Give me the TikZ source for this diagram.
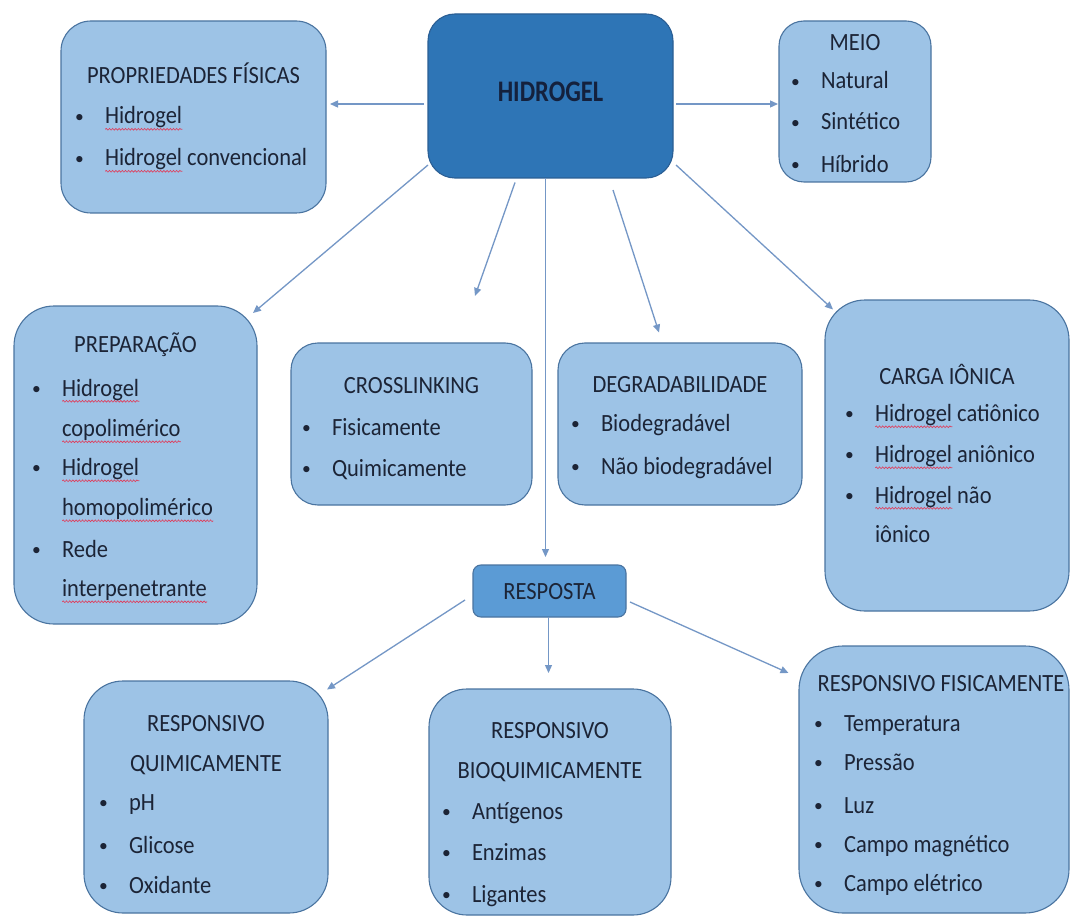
\documentclass[tikz,border=0pt]{standalone}
\usepackage{fontspec}
\usepackage{graphicx}
\setmainfont{Carlito}
\usetikzlibrary{arrows.meta,calc,decorations.pathmorphing}

\definecolor{boxfill}{HTML}{9DC3E6}
\definecolor{boxline}{HTML}{4A74A0}
\definecolor{hidfill}{HTML}{2E75B6}
\definecolor{hidline}{HTML}{2A5E94}
\definecolor{respfill}{HTML}{5B9BD5}
\definecolor{arrowc}{HTML}{7497C6}
\definecolor{textc}{HTML}{1C2436}
\definecolor{hidtext}{HTML}{14213D}
\definecolor{spellred}{HTML}{E03C5A}

% red wavy spell-check underline below a word
\newlength\spellw
\newcommand\spell[1]{\settowidth\spellw{#1}\rlap{\tikz[baseline=0pt]{%
  \path (0pt,0pt) (\spellw,0pt);
  \draw[spellred,line width=0.6pt,decorate,decoration={snake,amplitude=0.8pt,segment length=3.2pt}]
    (0pt,-4.8pt) -- (\spellw,-4.8pt);}}#1}

% slightly tall lettering
\newcommand\tall[1]{\scalebox{1}[1.1]{#1}}
\newcommand\listdot{\raisebox{1.6pt}{\scalebox{0.78}{\textbullet}}}

% text lines inside the boxes
\newcounter{ln}
\newcommand\boxtitle[3]{\stepcounter{ln}\node[txt,anchor=base] (ln\arabic{ln}) at (#1,#2) {\tall{#3}};}
\newcommand\boxitem[3]{\stepcounter{ln}\node[txt,anchor=base west] (ln\arabic{ln}) at (#1-30,#2) {\makebox[30pt][l]{\listdot}\tall{#3}};}
\newcommand\boxcont[3]{\stepcounter{ln}\node[txt,anchor=base west] (ln\arabic{ln}) at (#1,#2) {\tall{#3}};}

\begin{document}
\begin{tikzpicture}[x=1pt,y=-1pt,
  txt/.style={inner sep=0pt,outer sep=0pt,text=textc,font=\fontsize{22.5}{27}\selectfont},
  lbox/.style={draw=boxline,fill=boxfill,line width=1.1pt,inner sep=0pt,outer sep=0pt},
  arr/.style={draw=arrowc,line width=1.3pt,-{Triangle[length=8pt,width=7pt]}}]

\fill[white] (0,0) rectangle (1073,917);
\useasboundingbox (0,0) rectangle (1073,917);

% ---------- boxes ----------
\node[draw=hidline,fill=hidfill,line width=1.1pt,inner sep=0pt,outer sep=0pt,
      minimum width=245pt,minimum height=164pt,rounded corners=27pt] (hid) at (550.5,96) {};
\node[lbox,minimum width=265pt,minimum height=192pt,rounded corners=30pt] (prop) at (193.5,117) {};
\node[lbox,minimum width=152pt,minimum height=161pt,rounded corners=25pt] (meio) at (855,101.5) {};
\node[lbox,minimum width=243pt,minimum height=318pt,rounded corners=40pt] (prep) at (135.5,465) {};
\node[lbox,minimum width=241pt,minimum height=162pt,rounded corners=27pt] (cross) at (411.5,424) {};
\node[lbox,minimum width=244pt,minimum height=162pt,rounded corners=27pt] (degr) at (680,424) {};
\node[lbox,minimum width=244pt,minimum height=311pt,rounded corners=40pt] (carga) at (947,455.5) {};
\node[draw=boxline,fill=respfill,line width=1.1pt,inner sep=0pt,outer sep=0pt,
      minimum width=153pt,minimum height=52pt,rounded corners=8pt] (resp) at (549.5,591) {};
\node[lbox,minimum width=244pt,minimum height=232pt,rounded corners=39pt] (rq) at (206,797) {};
\node[lbox,minimum width=242pt,minimum height=226pt,rounded corners=38pt] (rb) at (550,802) {};
\node[lbox,minimum width=270pt,minimum height=267pt,rounded corners=44pt] (rf) at (934,779.5) {};

% ---------- texts ----------
\node[inner sep=0pt,outer sep=0pt,text=hidtext,font=\fontsize{24.5}{29}\selectfont\bfseries,anchor=base]
  (hidlabel) at (550.5,102) {\scalebox{1}[1.22]{HIDROGEL}};

\boxtitle{193.5}{84}{PROPRIEDADES FÍSICAS}
\boxitem{105}{124}{\spell{Hidrogel}}
\boxitem{105}{166}{\spell{Hidrogel} convencional}

\boxtitle{855}{50.5}{MEIO}
\boxitem{821}{89}{Natural}
\boxitem{821}{130}{Sintético}
\boxitem{821}{172.5}{Híbrido}

\boxtitle{135.5}{352.5}{PREPARAÇÃO}
\boxitem{62}{396}{\spell{Hidrogel}}
\boxcont{62}{436.5}{\spell{copolimérico}}
\boxitem{62}{475.5}{\spell{Hidrogel}}
\boxcont{62}{515.5}{\spell{homopolimérico}}
\boxitem{62}{557}{Rede}
\boxcont{62}{596.5}{\spell{interpenetrante}}

\boxtitle{411.5}{393.5}{CROSSLINKING}
\boxitem{332}{435}{Fisicamente}
\boxitem{332}{476}{Quimicamente}

\boxtitle{680}{392.5}{DEGRADABILIDADE}
\boxitem{601}{431.5}{Biodegradável}
\boxitem{601}{474.5}{Não biodegradável}

\boxtitle{947}{384}{CARGA IÔNICA}
\boxitem{875}{421.5}{\spell{Hidrogel} catiônico}
\boxitem{875}{462.5}{\spell{Hidrogel} aniônico}
\boxitem{875}{503}{\spell{Hidrogel} não}
\boxcont{875}{542}{iônico}

\boxtitle{549.5}{599.5}{RESPOSTA}

\boxtitle{206}{731.5}{RESPONSIVO}
\boxtitle{206}{771}{QUIMICAMENTE}
\boxitem{129}{810.5}{pH}
\boxitem{129}{853.5}{Glicose}
\boxitem{129}{893}{Oxidante}

\boxtitle{550}{738}{RESPONSIVO}
\boxtitle{550}{778}{BIOQUIMICAMENTE}
\boxitem{472}{819}{Antígenos}
\boxitem{472}{860.5}{Enzimas}
\boxitem{472}{902}{Ligantes}

\boxtitle{941}{691}{RESPONSIVO FISICAMENTE}
\boxitem{844}{731.5}{Temperatura}
\boxitem{844}{770.5}{Pressão}
\boxitem{844}{813}{Luz}
\boxitem{844}{852}{Campo magnético}
\boxitem{844}{891}{Campo elétrico}

% ---------- connectors ----------
\coordinate (xlend) at (475,296);
\draw[arr] ($(hid.west)+(-4,8)$) -- ($(prop.east)+(4,-13)$);
\draw[arr] ($(hid.east)+(3,8)$) -- ($(meio.west)+(-1,2.5)$);
\draw[arr] ($(hid.south west)+(0,-13)$) -- ($(prep.north east)+(-4,7)$);
\draw[arr] ($(hid.south)+(-35.5,4.5)$) -- (xlend);
\draw[arr] ($(hid.south)+(-5,0)$) -- ($(resp.north)+(-4,-8)$);
\draw[arr] ($(hid.south)+(62.5,12)$) -- ($(degr.north)+(-21,-10.5)$);
\draw[arr] ($(hid.south east)+(3,-13)$) -- ($(carga.north west)+(8,9.5)$);
\draw[arr] ($(resp.west)+(-8,9)$) -- ($(rq.north east)+(-1,8.5)$);
\draw[arr] ($(resp.south)+(-1,0)$) -- ($(rb.north)+(-1.5,-16)$);
\draw[arr] ($(resp.east)+(4,11)$) -- ($(rf.north west)+(-10.5,27)$);
\end{tikzpicture}
\end{document}
